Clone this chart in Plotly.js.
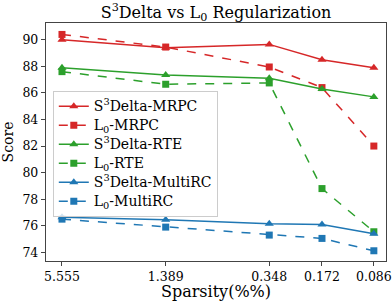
<!DOCTYPE html>
<html><head><meta charset="utf-8">
<script src="https://cdn.plot.ly/plotly-3.0.1.min.js"></script>
<style>html,body{margin:0;padding:0;background:#fff}#chart{width:392px;height:301px}</style>
</head><body><div id="chart"></div>
<script>
const sparsity = [5.555, 1.389, 0.348, 0.172, 0.086];
const sparsityLabels = ["5.555", "1.389", "0.348", "0.172", "0.086"];
const s3MRPC = [90.0, 89.4, 89.65, 88.5, 87.9];
const l0MRPC = [90.4, 89.45, 87.95, 86.4, 82.0];
const s3RTE = [87.9, 87.35, 87.1, 86.3, 85.7];
const l0RTE = [87.6, 86.65, 86.75, 78.8, 75.55];
const s3MultiRC = [76.65, 76.45, 76.15, 76.1, 75.4];
const l0MultiRC = [76.5, 75.9, 75.3, 75.05, 74.12];

const red = '#d62728', green = '#2ca02c', blue = '#1f77b4';
function lbl(t) { return '<span style="font-size:14px">' + t + '</span>'; }
function tr(name, y, color, dashed) {
  return {
    x: sparsity, y: y, name: lbl(name), type: 'scatter', mode: 'lines+markers',
    line: {color: color, width: 1.5, dash: dashed ? 'dash' : 'solid'},
    marker: {color: color, size: dashed ? 7 : 8, symbol: dashed ? 'square' : 'triangle-up'}
  };
}
const data = [
  tr('S<sup>3</sup>Delta-MRPC', s3MRPC, red, false),
  tr('L<sub>0</sub>-MRPC', l0MRPC, red, true),
  tr('S<sup>3</sup>Delta-RTE', s3RTE, green, false),
  tr('L<sub>0</sub>-RTE', l0RTE, green, true),
  tr('S<sup>3</sup>Delta-MultiRC', s3MultiRC, blue, false),
  tr('L<sub>0</sub>-MultiRC', l0MultiRC, blue, true)
];
const layout = {
  width: 392, height: 301,
  margin: {l: 46, r: 6, t: 23, b: 40},
  paper_bgcolor: '#fff', plot_bgcolor: '#fff',
  font: {family: 'DejaVu Serif', size: 12, color: '#000'},
  title: {text: 'S<sup>3</sup>Delta vs L<sub>0</sub> Regularization', font: {family: 'DejaVu Serif', size: 16, color: '#000'},
          x: 0.5, xref: 'paper', xanchor: 'center', y: 0.96, yanchor: 'middle', yref: 'container'},
  showlegend: true,
  legend: {x: 0.02, y: 0.715, xref: 'paper', yref: 'paper', xanchor: 'left', yanchor: 'top', bgcolor: 'rgba(255,255,255,0.8)',
           bordercolor: '#cccccc', borderwidth: 1, font: {family: 'DejaVu Serif', size: 12, color: '#000'},
           tracegroupgap: 0, itemwidth: 30},
  xaxis: {
    type: 'log', range: [0.8375, -1.136],
    tickvals: sparsity, ticktext: sparsityLabels, tickmode: 'array',
    showgrid: false, zeroline: false, showline: true, mirror: true, linecolor: '#444', linewidth: 1.2,
    ticks: 'outside', ticklen: 4, tickcolor: '#444', tickfont: {family: 'DejaVu Serif', size: 12.5, color: '#000'},
    title: {text: 'Sparsity(%%)', font: {family: 'DejaVu Serif', size: 16, color: '#000'}, standoff: 3}
  },
  yaxis: {
    range: [73.35, 91.26], tickvals: [74, 76, 78, 80, 82, 84, 86, 88, 90], tickmode: 'array',
    showgrid: false, zeroline: false, showline: true, mirror: true, linecolor: '#444', linewidth: 1.2,
    ticks: 'outside', ticklen: 4, tickcolor: '#444', tickfont: {family: 'DejaVu Serif', size: 12.5, color: '#000'},
    title: {text: 'Score', font: {family: 'DejaVu Serif', size: 14, color: '#000'}, standoff: 6}
  }
};
Plotly.newPlot('chart', data, layout, {displayModeBar: false, staticPlot: true});
</script></body></html>
